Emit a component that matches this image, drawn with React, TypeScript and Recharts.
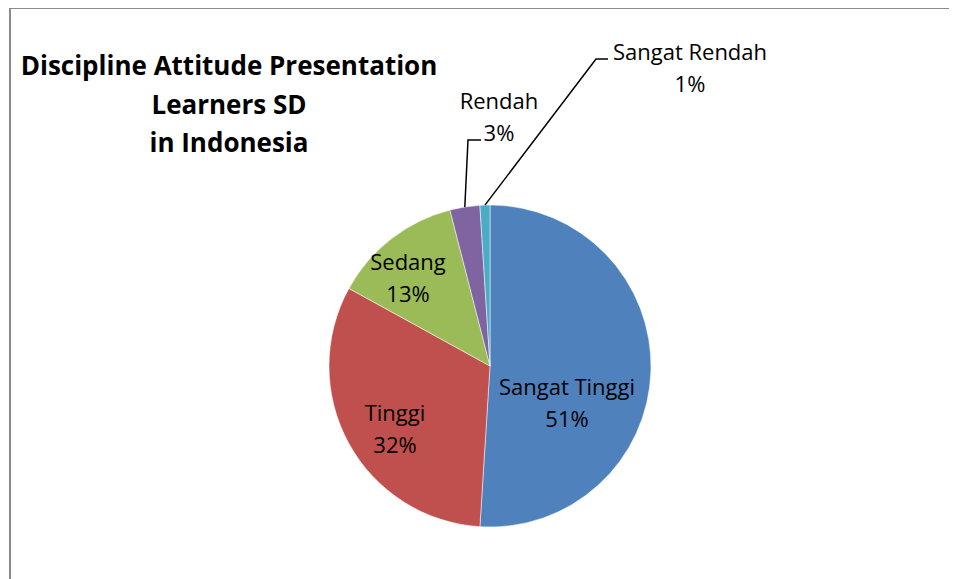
import { PieChart, Pie, Cell } from "recharts";

const categories = ["Sangat Tinggi", "Tinggi", "Sedang", "Rendah", "Sangat Rendah"];
const shares = [51, 32, 13, 3, 1];
const colors = ["#4F81BD", "#C0504D", "#9BBB59", "#8064A2", "#4BACC6"];
const titleLines = ["Discipline Attitude Presentation", "Learners SD", "in Indonesia"];

const data = categories.map((name, i) => ({ name, value: shares[i] }));

// label block centre + optional leader elbow, relative to pie centre
const layout = [
  { dx: 77, dy: 36 },
  { dx: -95, dy: 62 },
  { dx: -82, dy: -89 },
  { dx: 9, dy: -250, elbow: [-22, -226], end: [-9, -226] },
  { dx: 200, dy: -299, elbow: [106, -307], end: [118, -307] },
];

const FONT = "'Open Sans', Lato, sans-serif";
const RAD = Math.PI / 180;

function renderLabel(props: any) {
  const { cx, cy, midAngle, outerRadius, index, name, value } = props;
  const l = layout[index];
  const x = cx + l.dx;
  const y = cy + l.dy;
  let leader = null;
  if (l.elbow) {
    const sx = cx + outerRadius * Math.cos(-midAngle * RAD);
    const sy = cy + outerRadius * Math.sin(-midAngle * RAD);
    leader = (
      <polyline
        points={`${sx},${sy} ${cx + l.elbow[0]},${cy + l.elbow[1]} ${cx + l.end[0]},${cy + l.end[1]}`}
        fill="none"
        stroke="#000"
        strokeWidth={1.5}
      />
    );
  }
  return (
    <g key={`lbl-${index}`}>
      {leader}
      <text x={x} y={y - 16} textAnchor="middle" dominantBaseline="central" fontFamily={FONT} fontSize={22} fill="#000">
        {name}
      </text>
      <text x={x} y={y + 16} textAnchor="middle" dominantBaseline="central" fontFamily={FONT} fontSize={22} fill="#000">
        {value}%
      </text>
    </g>
  );
}

export default function App() {
  return (
    <div style={{ position: "relative", width: 949, height: 571, overflow: "hidden" }}>
      <div
        style={{
          position: "absolute",
          left: 1,
          top: -1,
          width: 1200,
          height: 1200,
          borderLeft: "2px solid #8a8a8a",
          borderTop: "2px solid #8a8a8a",
        }}
      />
      <div style={{ position: "absolute", left: 0, top: 0 }}>
        <PieChart width={949} height={571}>
          {titleLines.map((t, i) => (
            <text
              key={t}
              x={221}
              y={67 + i * 38.5}
              textAnchor="middle"
              fontFamily={FONT}
              fontWeight="bold"
              fontSize={26}
              fill="#000"
            >
              {t}
            </text>
          ))}
          <Pie
            data={data}
            dataKey="value"
            nameKey="name"
            cx={477}
            cy={353}
            outerRadius={161}
            startAngle={90}
            endAngle={-270}
            stroke="#ffffff"
            strokeWidth={0.5}
            label={renderLabel}
            labelLine={false}
            isAnimationActive={false}
          >
            {data.map((d, i) => (
              <Cell key={d.name} fill={colors[i]} />
            ))}
          </Pie>
        </PieChart>
      </div>
    </div>
  );
}
